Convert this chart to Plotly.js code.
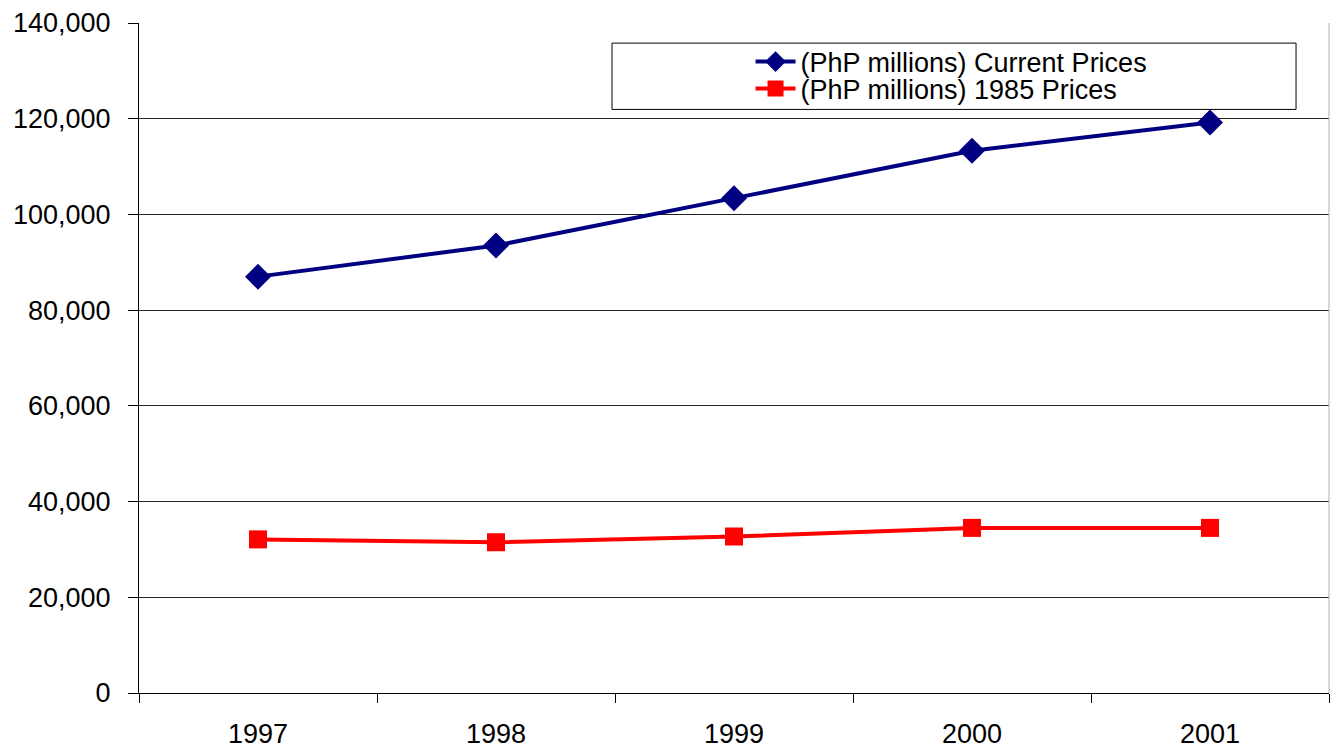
<!DOCTYPE html>
<html>
<head>
<meta charset="utf-8">
<script src="https://cdn.plot.ly/plotly-3.0.1.min.js"></script>
<style>
html,body{margin:0;padding:0;background:#fff;}
#chart{width:1337px;height:751px;}
</style>
</head>
<body>
<div id="chart"></div>
<script>
const years = ['1997', '1998', '1999', '2000', '2001'];
const currentPrices = [87000, 93500, 103400, 113300, 119200];
const prices1985 = [32100, 31500, 32700, 34500, 34500];
const seriesNames = ['(PhP millions) Current Prices', '(PhP millions) 1985 Prices'];
const yTicks = [0, 20000, 40000, 60000, 80000, 100000, 120000, 140000];

const font = 'Liberation Sans, Arial, sans-serif';

const traces = [
  {
    x: years, y: currentPrices, name: seriesNames[0], legend: 'legend',
    type: 'scatter', mode: 'lines+markers',
    line: {color: '#000080', width: 4},
    marker: {symbol: 'diamond', size: 20, color: '#000080'}
  },
  {
    x: years, y: prices1985, name: seriesNames[1], legend: 'legend2',
    type: 'scatter', mode: 'lines+markers',
    line: {color: '#FF0000', width: 4},
    marker: {symbol: 'square', size: 18, color: '#FF0000'}
  }
];

const legendBase = {
  xanchor: 'left', yanchor: 'middle',
  bgcolor: 'rgba(0,0,0,0)', borderwidth: 0,
  font: {family: font, size: 27, color: '#000'},
  itemwidth: 40
};

const layout = {
  width: 1337, height: 751,
  margin: {l: 139, r: 8, t: 23, b: 58, pad: 0},
  paper_bgcolor: '#fff', plot_bgcolor: '#fff',
  font: {family: font, size: 27, color: '#000'},
  showlegend: true,
  legend: Object.assign({x: 0.5139, y: 0.9418}, legendBase),
  legend2: Object.assign({x: 0.5139, y: 0.9015}, legendBase),
  xaxis: {
    type: 'category', range: [-0.5, 4.5],
    tickson: 'boundaries', ticks: 'outside', ticklen: 9, tickcolor: '#000', tickwidth: 1,
    showgrid: false, showline: true, linecolor: '#000', linewidth: 1,
    zeroline: false, tickfont: {family: font, size: 27, color: '#000'},
    ticklabelstandoff: 17
  },
  yaxis: {
    range: [0, 140000], tickvals: yTicks,
    ticktext: yTicks.map(v => v.toLocaleString('en-US')),
    ticks: 'outside', ticklen: 10, tickcolor: '#000', tickwidth: 1,
    showgrid: true, gridcolor: '#222', gridwidth: 1,
    showline: true, linecolor: '#000', linewidth: 1,
    zeroline: false, tickfont: {family: font, size: 27, color: '#000'},
    ticklabelstandoff: 12
  },
  shapes: [
    {type: 'line', xref: 'paper', yref: 'paper', x0: 1, x1: 1, y0: 0, y1: 1,
     line: {color: '#b0b0b0', width: 1}},
    {type: 'rect', xref: 'paper', yref: 'paper', x0: 0.3975, x1: 0.9723, y0: 0.871, y1: 0.97,
     line: {color: '#000', width: 1}, fillcolor: 'rgba(0,0,0,0)', layer: 'above'}
  ]
};

Plotly.newPlot('chart', traces, layout, {staticPlot: true, displayModeBar: false});
</script>
</body>
</html>
